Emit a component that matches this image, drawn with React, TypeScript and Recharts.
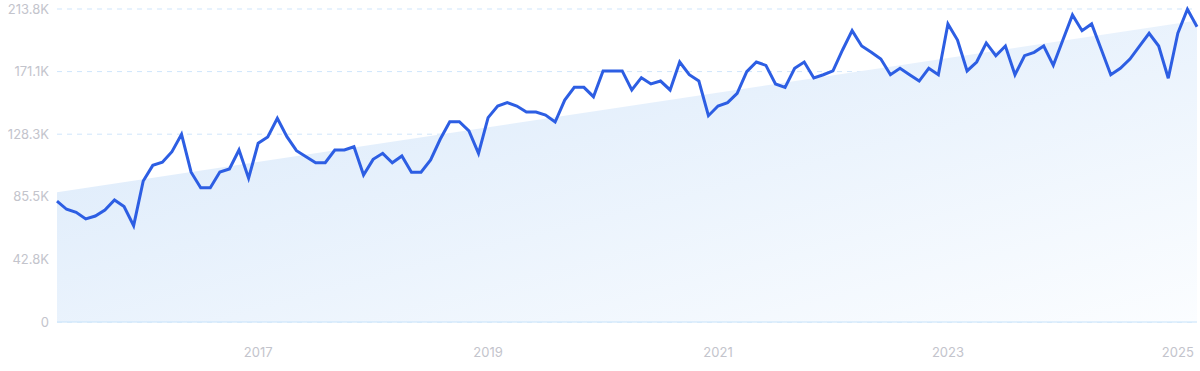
import React from 'react';
import { ComposedChart, Line, Area, XAxis, YAxis, CartesianGrid } from 'recharts';

// monthly values, Apr 2015 .. Mar 2025 (thousands)
const months: string[] = [];
for (let y = 2015; y <= 2025; y++) {
    for (let m = 1; m <= 12; m++) {
        if ((y === 2015 && m < 4) || (y === 2025 && m > 3)) continue;
        months.push(`${y}-${String(m).padStart(2, '0')}`);
    }
}

const visits = [
    82.6, 77.0, 74.9, 70.4, 72.4, 76.5, 83.3, 78.8, 65.8, 96.3,
    107.0, 109.1, 116.3, 128.2, 102.3, 91.7, 91.7, 102.5, 104.5, 117.5,
    98.2, 122.1, 126.4, 139.1, 126.6, 117.0, 112.9, 108.8, 108.8, 117.5,
    117.5, 119.7, 100.4, 111.1, 115.2, 108.8, 113.4, 102.3, 102.3, 110.7,
    124.8, 136.8, 136.8, 130.5, 115.2, 139.6, 147.5, 149.8, 147.5, 143.4,
    143.4, 141.4, 136.6, 151.6, 160.3, 160.3, 153.9, 171.5, 171.5, 171.5,
    158.5, 166.9, 162.6, 164.6, 158.5, 177.6, 168.9, 164.6, 140.9, 147.5,
    149.8, 156.2, 171.0, 177.6, 175.3, 162.6, 160.3, 173.3, 177.6, 166.7,
    168.9, 171.5, 185.8, 199.0, 188.5, 184.2, 179.6, 168.9, 173.3, 168.9,
    164.6, 173.3, 168.9, 203.6, 192.6, 171.5, 177.6, 190.6, 181.9, 188.5,
    168.9, 181.9, 184.2, 188.5, 175.3, 192.6, 209.7, 199.0, 203.6, 186.3,
    168.9, 173.3, 179.6, 188.5, 197.2, 188.5, 166.5, 197.2, 213.6, 201.7,
];

// trend band: only its two ends are known
const trendStart = 88.6;
const trendEnd = 206.0;

const yTicks = [0, 42.76, 85.52, 128.28, 171.04, 213.8];
const yLabels = ['0', '42.8K', '85.5K', '128.3K', '171.1K', '213.8K'];
const xTicks = ['2017-01', '2019-01', '2021-01', '2023-01', '2025-01'];

const data = months.map((month, i) => ({
    month,
    visits: visits[i],
    trend: i === 0 ? trendStart : i === months.length - 1 ? trendEnd : null,
}));

export default function App() {
    const tickStyle = { fill: '#c3c4cc', fontSize: 13, fontFamily: 'Inter, sans-serif' };
    return (
        <div style={{ position: 'absolute', left: 0, top: 0, background: '#fff' }}>
            <ComposedChart width={1200} height={371} data={data} margin={{ top: 9, right: 3, bottom: 0, left: 0 }}>
                <defs>
                    <linearGradient id="trendFill" x1="0" y1="0" x2="1" y2="1">
                        <stop offset="0%" stopColor="#d8e8fa" />
                        <stop offset="100%" stopColor="#fbfdff" />
                    </linearGradient>
                </defs>
                <CartesianGrid vertical={false} stroke="#cfe5fb" strokeDasharray="5 5" />
                <XAxis
                    dataKey="month"
                    ticks={xTicks}
                    interval={0}
                    tickFormatter={(v: string) => v.slice(0, 4)}
                    tick={tickStyle}
                    axisLine={{ stroke: '#c6e2fa' }}
                    tickLine={false}
                    tickMargin={20}
                    height={49}
                />
                <YAxis
                    domain={[0, 213.8]}
                    ticks={yTicks}
                    tickFormatter={(v: number) => yLabels[yTicks.indexOf(v)] ?? ''}
                    tick={tickStyle}
                    axisLine={false}
                    tickLine={false}
                    width={57}
                />
                <Area
                    dataKey="trend"
                    type="linear"
                    connectNulls
                    fill="url(#trendFill)"
                    fillOpacity={1}
                    stroke="none"
                    isAnimationActive={false}
                />
                <Line
                    dataKey="visits"
                    type="linear"
                    stroke="#2d5ee3"
                    strokeWidth={3}
                    dot={false}
                    isAnimationActive={false}
                />
            </ComposedChart>
        </div>
    );
}
